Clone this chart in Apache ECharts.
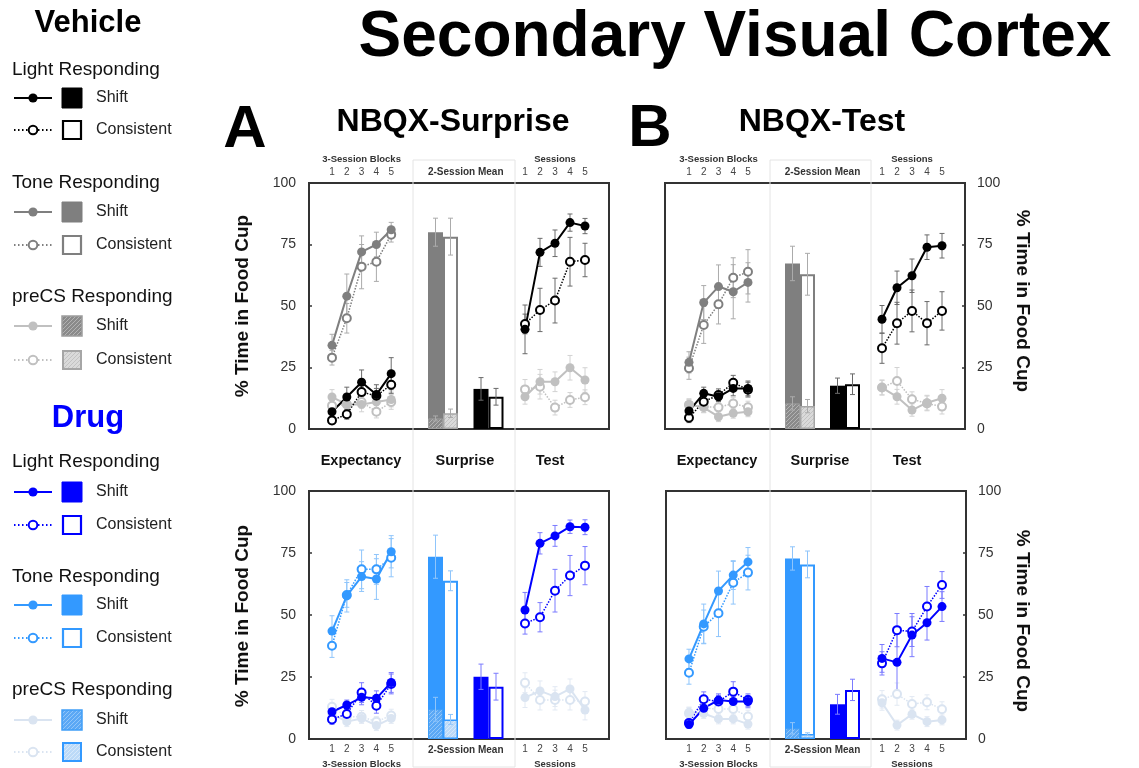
<!DOCTYPE html>
<html><head><meta charset="utf-8">
<script src="https://cdn.jsdelivr.net/npm/echarts@6/dist/echarts.min.js"></script>
<style>html,body{margin:0;padding:0;background:#fff}#c{width:1139px;height:768px}</style>
</head><body><div id="c"></div>
<script>
// ---------- categories / ticks ----------
const blocks = ['1','2','3','4','5'];
const sessions = ['1','2','3','4','5'];
const meanCats = ['Tone','Light'];

// ---------- NBQX-Surprise, Vehicle (A top) ----------
const AV_expToneShift = [34, 54, 72, 75, 81];      const AV_expToneShiftSE = [4.5, 9, 6.5, 5, 3];
const AV_expToneCons  = [29, 45, 66, 68, 79];      const AV_expToneConsSE  = [3, 6, 9, 8, 3];
const AV_expLightShift= [7, 13, 19, 14, 22.5];     const AV_expLightShiftSE= [2.5, 4, 5, 4, 6.5];
const AV_expLightCons = [3.5, 6, 15, 13.5, 18];    const AV_expLightConsSE = [1.5, 2, 3, 3, 3.5];
const AV_expPrecsShift= [13, 10, 10, 11, 12];      const AV_expPrecsShiftSE= [3, 3, 3, 3, 3];
const AV_expPrecsCons = [9.5, 10, 11, 7, 11];      const AV_expPrecsConsSE = [2.5, 2.5, 2.5, 2.5, 3];
const AV_meanShift = [80, 16.3];   const AV_meanShiftSE = [5.7, 4.6];
const AV_meanCons  = [78.2, 13.1]; const AV_meanConsSE  = [7.5, 3.4];
const AV_meanPrecs = [4.3, 6.4];   const AV_meanPrecsSE = [1, 1.7];
const AV_sesLightShift = [40.5, 71.8, 75.5, 83.9, 82.5]; const AV_sesLightShiftSE = [9.9, 5.7, 5.4, 3.5, 3.1];
const AV_sesLightCons  = [42.7, 48.4, 52.2, 68, 68.7];   const AV_sesLightConsSE  = [4, 8.8, 9.1, 9.9, 6.8];
const AV_sesPrecsShift = [13.1, 19.2, 19.2, 24.9, 19.9]; const AV_sesPrecsShiftSE = [3, 5, 4, 5, 5];
const AV_sesPrecsCons  = [16.1, 17.2, 8.7, 11.8, 12.9];  const AV_sesPrecsConsSE  = [4, 5, 3, 3, 3];

// ---------- NBQX-Test, Vehicle (B top) ----------
const BV_expToneShift = [27.1, 51.4, 57.9, 55.8, 59.6]; const BV_expToneShiftSE = [4.3, 6.9, 8.8, 11, 8];
const BV_expToneCons  = [24.7, 42.3, 50.7, 61.5, 63.9]; const BV_expToneConsSE  = [4.5, 7.5, 8, 8.1, 9];
const BV_expLightShift= [7.3, 14.5, 13.1, 16.5, 16.5];  const BV_expLightShiftSE= [2, 2.5, 2, 3, 3];
const BV_expLightCons = [4.6, 11.1, 13.8, 18.8, 16];    const BV_expLightConsSE = [2, 2.5, 2.5, 3, 3];
const BV_expPrecsShift= [10, 8.7, 5, 6.4, 7];           const BV_expPrecsShiftSE= [2, 2, 2, 2, 2];
const BV_expPrecsCons = [9.8, 9.1, 8.8, 10.4, 8.8];     const BV_expPrecsConsSE = [2.5, 2.5, 2.5, 2.5, 2.5];
const BV_meanShift = [67.3, 17.6]; const BV_meanShiftSE = [7, 3.1];
const BV_meanCons  = [62.9, 18.2]; const BV_meanConsSE  = [8.5, 4.2];
const BV_meanPrecs = [10.4, 9.3];  const BV_meanPrecsSE = [2.7, 2.7];
const BV_sesLightShift = [44.6, 57.4, 62.3, 73.9, 74.5]; const BV_sesLightShiftSE = [5.6, 6.8, 6.8, 5, 5];
const BV_sesLightCons  = [32.8, 43, 48, 43, 48];         const BV_sesLightConsSE  = [6.1, 8.5, 8.5, 8.8, 7.8];
const BV_sesPrecsShift = [16.8, 13.1, 7.7, 10.7, 12.5];  const BV_sesPrecsShiftSE = [3, 3, 2.5, 3, 3.5];
const BV_sesPrecsCons  = [16.9, 19.5, 12.1, 10.4, 9.1];  const BV_sesPrecsConsSE  = [3, 5.5, 3, 3, 3];

// ---------- NBQX-Surprise, Drug (A bottom) ----------
const AD_expToneShift = [43.5, 57.7, 65.5, 64.5, 75.5]; const AD_expToneShiftSE = [6.2, 6.5, 6, 8.2, 6.5];
const AD_expToneCons  = [37.6, 58.1, 68.4, 68.4, 73.1]; const AD_expToneConsSE  = [4.7, 5, 7.8, 6, 7.7];
const AD_expLightShift= [11, 13.7, 16.8, 16.4, 22.8];   const AD_expLightShiftSE= [2, 2, 3, 3, 4];
const AD_expLightCons = [7.9, 10.1, 18.7, 13.4, 22.2];  const AD_expLightConsSE = [2, 2, 4, 3, 4];
const AD_expPrecsShift= [10, 7, 8.3, 5.4, 8.3];         const AD_expPrecsShiftSE= [2.5, 2, 2, 2, 2];
const AD_expPrecsCons = [13, 9, 9, 7, 9.5];             const AD_expPrecsConsSE = [3, 2.5, 2.5, 2, 2.5];
const AD_meanShift = [73.5, 25.1]; const AD_meanShiftSE = [8.7, 5.1];
const AD_meanCons  = [63.8, 21.1]; const AD_meanConsSE  = [4, 5.4];
const AD_meanPrecs = [12, 7.9];    const AD_meanPrecsSE = [4.8, 2];
const AD_sesLightShift = [52, 78.9, 81.9, 85.6, 85.4];   const AD_sesLightShiftSE = [7.1, 4.3, 4.2, 2.7, 3];
const AD_sesLightCons  = [46.6, 49.1, 59.8, 65.9, 69.9]; const AD_sesLightConsSE  = [4.3, 5.9, 8.6, 8.1, 7.7];
const AD_sesPrecsShift = [16.7, 19.4, 17.1, 20.2, 11.7]; const AD_sesPrecsShiftSE = [4, 4, 4, 4, 4];
const AD_sesPrecsCons  = [22.7, 15.7, 15.7, 15.7, 15.1]; const AD_sesPrecsConsSE  = [4, 4, 4, 4, 4];

// ---------- NBQX-Test, Drug (B bottom) ----------
const BD_expToneShift = [32.3, 46.4, 59.7, 66.1, 71.4]; const BD_expToneShiftSE = [3.9, 8, 8, 5.8, 5.8];
const BD_expToneCons  = [26.7, 45.3, 50.7, 63, 67.1];   const BD_expToneConsSE  = [4.6, 6.7, 9.4, 8.6, 7];
const BD_expLightShift= [5.8, 12.4, 15.7, 15.1, 15.1];  const BD_expLightShiftSE= [1.5, 2.5, 2.5, 2, 2.5];
const BD_expLightCons = [6.5, 16, 15.1, 19.1, 15.7];    const BD_expLightConsSE = [1.5, 3, 2.5, 4, 2.5];
const BD_expPrecsShift= [10.8, 10.3, 8.1, 8.1, 6];      const BD_expPrecsShiftSE= [2, 2, 2, 2, 2];
const BD_expPrecsCons = [10.3, 12.4, 12.1, 12.1, 9.1];  const BD_expPrecsConsSE = [2.5, 2.5, 2.5, 2.5, 2.5];
const BD_meanShift = [72.8, 14];   const BD_meanShiftSE = [4.7, 4];
const BD_meanCons  = [70.4, 19.8]; const BD_meanConsSE  = [5.4, 4.3];
const BD_meanPrecs = [4.3, 2];     const BD_meanPrecsSE = [2.3, 0.5];
const BD_sesLightShift = [32.5, 30.9, 41.9, 46.9, 53.4]; const BD_sesLightShiftSE = [5.6, 11.3, 8.7, 7, 6];
const BD_sesLightCons  = [30.5, 43.9, 43.3, 53.4, 62.1]; const BD_sesLightConsSE  = [4.7, 6.7, 6, 8.1, 5.4];
const BD_sesPrecsShift = [14.6, 5.6, 10, 7, 7.7];        const BD_sesPrecsShiftSE = [3, 2, 2, 2, 2];
const BD_sesPrecsCons  = [16, 18.1, 14.1, 14.8, 12];     const BD_sesPrecsConsSE  = [3.5, 4.5, 3, 3, 3];

// ---------- styling ----------
const FF = '"Liberation Sans", Arial, Helvetica, sans-serif';
function hatch(bg, line) {
  const c = document.createElement('canvas'); c.width = 4; c.height = 4;
  const ctx = c.getContext('2d'); ctx.fillStyle = bg; ctx.fillRect(0,0,4,4);
  ctx.strokeStyle = line; ctx.lineWidth = 1; ctx.beginPath();
  ctx.moveTo(0,4); ctx.lineTo(4,0); ctx.moveTo(-1,1); ctx.lineTo(1,-1); ctx.moveTo(3,5); ctx.lineTo(5,3); ctx.stroke();
  return {image: c, repeat: 'repeat'};
}
const VEH = {light:'#000000', tone:'#7f7f7f', precs:'#c0c0c0',
  lightErr:'#6a6a6a', toneErr:'#ababab', precsErr:'#d2d2d2',
  pShiftFill: hatch('#8a8a8a','#b3b3b3'), pShiftBorder:'#9d9d9d',
  pConsFill: hatch('#dadada','#c2c2c2'), pConsBorder:'#a6a6a6'};
const DRUG = {light:'#0000ff', tone:'#3399ff', precs:'#dae4f1',
  lightErr:'#7b7bff', toneErr:'#8fc5fb', precsErr:'#e2e9f3',
  pShiftFill: hatch('#5ba8f5','#91c6fa'), pShiftBorder:'#409ff8',
  pConsFill: hatch('#bcdaf8','#d8e9fb'), pConsBorder:'#3399ff'};

const option = {animation:false, backgroundColor:'#fff', grid:[], xAxis:[], yAxis:[], series:[], graphic:[]};

function errSeries(xi, yi, pts, colors, offset) {
  return {type:'custom', xAxisIndex:xi, yAxisIndex:yi, z:4, silent:true, clip:false,
    encode:{x:0, y:1}, data: pts,
    renderItem(params, api) {
      const x = api.value(0), m = api.value(1), e = api.value(2);
      const t = api.coord([x, m + e]), b = api.coord([x, Math.max(0, m - e)]);
      const cx = t[0] + (offset || 0), cap = 2.5;
      const col = Array.isArray(colors) ? colors[params.dataIndex] : colors;
      const st = {stroke: col, lineWidth: 1};
      return {type:'group', children:[
        {type:'line', shape:{x1:cx, y1:t[1], x2:cx, y2:b[1]}, style:st},
        {type:'line', shape:{x1:cx-cap, y1:t[1], x2:cx+cap, y2:t[1]}, style:st},
        {type:'line', shape:{x1:cx-cap, y1:b[1], x2:cx+cap, y2:b[1]}, style:st}]};
    }};
}
const pts = (m, s) => m.map((v, i) => [i, v, s[i]]);
function lineSeries(xi, yi, data, color, filled) {
  return {type:'line', xAxisIndex:xi, yAxisIndex:yi, data, z:5, silent:true,
    symbol:'circle', symbolSize: filled ? 9 : 8,
    lineStyle:{color, width: filled ? 2 : 1.5, type: filled ? 'solid' : 'dotted'},
    itemStyle: filled ? {color, borderWidth:0} : {color:'#fff', borderColor:color, borderWidth:2},
    emphasis:{disabled:true}};
}

function addPanel(P) {
  const C = P.pal, g0 = option.grid.length;
  const top = P.box.top, height = P.box.bottom - P.box.top;
  const mk = (left, width, show) => ({left, width, top, height, show:!!show, borderColor:'#333', borderWidth:2,
    backgroundColor:'transparent', containLabel:false, outerBoundsMode:'none'});
  option.grid.push(mk(P.box.left, P.box.right - P.box.left, true));
  option.grid.push(mk(P.exp[0], P.exp[1]));
  option.grid.push(mk(P.mean[0], P.mean[1]));
  option.grid.push(mk(P.ses[0], P.ses[1]));
  const x0 = option.xAxis.length, y0 = option.yAxis.length;
  const cat = (gi, data) => ({type:'category', gridIndex:gi, data, position:P.labelPos,
    axisLine:{show:false}, axisTick:{show:false}, splitLine:{show:false},
    axisLabel:{fontSize:10, color:'#444', margin:P.labelPos === 'top' ? 6 : 5, fontFamily:FF}});
  option.xAxis.push({type:'value', gridIndex:g0, show:false, min:0, max:1});
  option.xAxis.push(cat(g0+1, blocks));
  option.xAxis.push({type:'category', gridIndex:g0+2, data:meanCats, show:false, position:'bottom'});
  option.xAxis.push({type:'category', gridIndex:g0+2, data:meanCats, show:false, position:'top'});
  option.xAxis.push(cat(g0+3, sessions));
  option.yAxis.push({type:'value', gridIndex:g0, min:0, max:100, interval:25, position:P.side,
    axisLine:{show:false, onZero:false}, splitLine:{show:false},
    axisTick:{show:true, inside:true, length:3, lineStyle:{color:'#333', width:1.5}},
    axisLabel:{fontSize:14, color:'#333', margin: P.side === 'left' ? 13 : 12, fontFamily:FF}});
  for (let k = 1; k <= 3; k++) option.yAxis.push({type:'value', gridIndex:g0+k, min:0, max:100, show:false});

  const d = P.d;
  // expectancy
  const xe = x0+1, ye = y0+1;
  option.series.push(
    errSeries(xe, ye, pts(d.expPrecsCons, d.expPrecsConsSE), C.precsErr),
    errSeries(xe, ye, pts(d.expPrecsShift, d.expPrecsShiftSE), C.precsErr),
    errSeries(xe, ye, pts(d.expToneCons, d.expToneConsSE), C.toneErr),
    errSeries(xe, ye, pts(d.expToneShift, d.expToneShiftSE), C.toneErr),
    errSeries(xe, ye, pts(d.expLightCons, d.expLightConsSE), C.lightErr),
    errSeries(xe, ye, pts(d.expLightShift, d.expLightShiftSE), C.lightErr),
    lineSeries(xe, ye, d.expPrecsCons, C.precs, false),
    lineSeries(xe, ye, d.expPrecsShift, C.precs, true),
    lineSeries(xe, ye, d.expToneCons, C.tone, false),
    lineSeries(xe, ye, d.expToneShift, C.tone, true),
    lineSeries(xe, ye, d.expLightCons, C.light, false),
    lineSeries(xe, ye, d.expLightShift, C.light, true));
  // 2-session means
  const xm = x0+2, xm2 = x0+3, ym = y0+2, bw = 15;
  option.series.push(
    {type:'bar', xAxisIndex:xm, yAxisIndex:ym, barWidth:bw, barGap:'0%', z:2, silent:true,
      data:[{value:d.meanShift[0], itemStyle:{color:C.tone}}, {value:d.meanShift[1], itemStyle:{color:C.light}}]},
    {type:'bar', xAxisIndex:xm, yAxisIndex:ym, barWidth:bw, barGap:'0%', z:2, silent:true,
      data:[{value:d.meanCons[0], itemStyle:{color:'#fff', borderColor:C.tone, borderWidth:2}},
            {value:d.meanCons[1], itemStyle:{color:'#fff', borderColor:C.light, borderWidth:2}}]},
    {type:'bar', xAxisIndex:xm2, yAxisIndex:ym, barWidth:bw, barGap:'0%', z:3, silent:true,
      data:[{value:d.meanPrecs[0], itemStyle:{color:C.pShiftFill, borderColor:C.pShiftBorder, borderWidth:1}}, '-']},
    {type:'bar', xAxisIndex:xm2, yAxisIndex:ym, barWidth:bw, barGap:'0%', z:3, silent:true,
      data:[{value:d.meanPrecs[1], itemStyle:{color:C.pConsFill, borderColor:C.pConsBorder, borderWidth:1.5}}, '-']},
    errSeries(xm, ym, pts(d.meanShift, d.meanShiftSE), [C.toneErr, C.lightErr], -bw/2),
    errSeries(xm, ym, pts(d.meanCons, d.meanConsSE), [C.toneErr, C.lightErr], bw/2),
    errSeries(xm2, ym, [[0, d.meanPrecs[0], d.meanPrecsSE[0]]], C.toneErr, -bw/2),
    errSeries(xm2, ym, [[0, d.meanPrecs[1], d.meanPrecsSE[1]]], C.toneErr, bw/2));
  // sessions
  const xs = x0+4, ys = y0+3;
  option.series.push(
    errSeries(xs, ys, pts(d.sesPrecsCons, d.sesPrecsConsSE), C.precsErr),
    errSeries(xs, ys, pts(d.sesPrecsShift, d.sesPrecsShiftSE), C.precsErr),
    errSeries(xs, ys, pts(d.sesLightCons, d.sesLightConsSE), C.lightErr),
    errSeries(xs, ys, pts(d.sesLightShift, d.sesLightShiftSE), C.lightErr),
    lineSeries(xs, ys, d.sesPrecsCons, C.precs, false),
    lineSeries(xs, ys, d.sesPrecsShift, C.precs, true),
    lineSeries(xs, ys, d.sesLightCons, C.light, false),
    lineSeries(xs, ys, d.sesLightShift, C.light, true));

  // axis sub-labels
  const ly = P.labelPos === 'top' ? 159 : 764;
  txt(P.exp[0] + P.exp[1]/2, ly, '3-Session Blocks', 'bold 9.5px ' + FF, '#333');
  txt(P.ses[0] + P.ses[1]/2, ly, 'Sessions', 'bold 9.5px ' + FF, '#333');
  txt(P.mean[0] + P.mean[1]/2, P.labelPos === 'top' ? 172 : 750, '2-Session Mean', 'bold 10px ' + FF, '#333');
}

function txt(x, y, text, font, fill, rot, align) {
  option.graphic.push({type:'text', x, y, rotation: rot || 0, z:20, silent:true,
    style:{x:0, y:0, text, font, fill: fill || '#000', textAlign: align || 'center', align: align || 'center',
      textVerticalAlign:'middle', verticalAlign:'middle'}});
}
function rect(x, y, w, h, style) {
  option.graphic.push({type:'rect', z: style.z || 0, silent:true, shape:{x, y, width:w, height:h}, style});
}

// column boxes for the 2-session mean
rect(413, 160, 102, 607, {fill:'none', stroke:'#e4e4e4', lineWidth:1, z:0});
rect(770, 160, 101, 607, {fill:'none', stroke:'#e4e4e4', lineWidth:1, z:0});

const pick = (pre) => {
  const src = {
    AV:{expToneShift:AV_expToneShift,expToneShiftSE:AV_expToneShiftSE,expToneCons:AV_expToneCons,expToneConsSE:AV_expToneConsSE,expLightShift:AV_expLightShift,expLightShiftSE:AV_expLightShiftSE,expLightCons:AV_expLightCons,expLightConsSE:AV_expLightConsSE,expPrecsShift:AV_expPrecsShift,expPrecsShiftSE:AV_expPrecsShiftSE,expPrecsCons:AV_expPrecsCons,expPrecsConsSE:AV_expPrecsConsSE,meanShift:AV_meanShift,meanShiftSE:AV_meanShiftSE,meanCons:AV_meanCons,meanConsSE:AV_meanConsSE,meanPrecs:AV_meanPrecs,meanPrecsSE:AV_meanPrecsSE,sesLightShift:AV_sesLightShift,sesLightShiftSE:AV_sesLightShiftSE,sesLightCons:AV_sesLightCons,sesLightConsSE:AV_sesLightConsSE,sesPrecsShift:AV_sesPrecsShift,sesPrecsShiftSE:AV_sesPrecsShiftSE,sesPrecsCons:AV_sesPrecsCons,sesPrecsConsSE:AV_sesPrecsConsSE},
    BV:{expToneShift:BV_expToneShift,expToneShiftSE:BV_expToneShiftSE,expToneCons:BV_expToneCons,expToneConsSE:BV_expToneConsSE,expLightShift:BV_expLightShift,expLightShiftSE:BV_expLightShiftSE,expLightCons:BV_expLightCons,expLightConsSE:BV_expLightConsSE,expPrecsShift:BV_expPrecsShift,expPrecsShiftSE:BV_expPrecsShiftSE,expPrecsCons:BV_expPrecsCons,expPrecsConsSE:BV_expPrecsConsSE,meanShift:BV_meanShift,meanShiftSE:BV_meanShiftSE,meanCons:BV_meanCons,meanConsSE:BV_meanConsSE,meanPrecs:BV_meanPrecs,meanPrecsSE:BV_meanPrecsSE,sesLightShift:BV_sesLightShift,sesLightShiftSE:BV_sesLightShiftSE,sesLightCons:BV_sesLightCons,sesLightConsSE:BV_sesLightConsSE,sesPrecsShift:BV_sesPrecsShift,sesPrecsShiftSE:BV_sesPrecsShiftSE,sesPrecsCons:BV_sesPrecsCons,sesPrecsConsSE:BV_sesPrecsConsSE},
    AD:{expToneShift:AD_expToneShift,expToneShiftSE:AD_expToneShiftSE,expToneCons:AD_expToneCons,expToneConsSE:AD_expToneConsSE,expLightShift:AD_expLightShift,expLightShiftSE:AD_expLightShiftSE,expLightCons:AD_expLightCons,expLightConsSE:AD_expLightConsSE,expPrecsShift:AD_expPrecsShift,expPrecsShiftSE:AD_expPrecsShiftSE,expPrecsCons:AD_expPrecsCons,expPrecsConsSE:AD_expPrecsConsSE,meanShift:AD_meanShift,meanShiftSE:AD_meanShiftSE,meanCons:AD_meanCons,meanConsSE:AD_meanConsSE,meanPrecs:AD_meanPrecs,meanPrecsSE:AD_meanPrecsSE,sesLightShift:AD_sesLightShift,sesLightShiftSE:AD_sesLightShiftSE,sesLightCons:AD_sesLightCons,sesLightConsSE:AD_sesLightConsSE,sesPrecsShift:AD_sesPrecsShift,sesPrecsShiftSE:AD_sesPrecsShiftSE,sesPrecsCons:AD_sesPrecsCons,sesPrecsConsSE:AD_sesPrecsConsSE},
    BD:{expToneShift:BD_expToneShift,expToneShiftSE:BD_expToneShiftSE,expToneCons:BD_expToneCons,expToneConsSE:BD_expToneConsSE,expLightShift:BD_expLightShift,expLightShiftSE:BD_expLightShiftSE,expLightCons:BD_expLightCons,expLightConsSE:BD_expLightConsSE,expPrecsShift:BD_expPrecsShift,expPrecsShiftSE:BD_expPrecsShiftSE,expPrecsCons:BD_expPrecsCons,expPrecsConsSE:BD_expPrecsConsSE,meanShift:BD_meanShift,meanShiftSE:BD_meanShiftSE,meanCons:BD_meanCons,meanConsSE:BD_meanConsSE,meanPrecs:BD_meanPrecs,meanPrecsSE:BD_meanPrecsSE,sesLightShift:BD_sesLightShift,sesLightShiftSE:BD_sesLightShiftSE,sesLightCons:BD_sesLightCons,sesLightConsSE:BD_sesLightConsSE,sesPrecsShift:BD_sesPrecsShift,sesPrecsShiftSE:BD_sesPrecsShiftSE,sesPrecsCons:BD_sesPrecsCons,sesPrecsConsSE:BD_sesPrecsConsSE}
  };
  return src[pre];
};

const geoA = {exp:[324.6, 74], mean:[420.25, 91], ses:[517.5, 75]};
const geoB = {exp:[681.6, 73.75], mean:[777.5, 90], ses:[874.5, 75]};
addPanel(Object.assign({pal:VEH, d:pick('AV'), side:'left', labelPos:'top', box:{left:309, right:609, top:183, bottom:429}}, geoA));
addPanel(Object.assign({pal:VEH, d:pick('BV'), side:'right', labelPos:'top', box:{left:665, right:965, top:183, bottom:429}}, geoB));
addPanel(Object.assign({pal:DRUG, d:pick('AD'), side:'left', labelPos:'bottom', box:{left:309, right:609, top:491, bottom:739}}, geoA));
addPanel(Object.assign({pal:DRUG, d:pick('BD'), side:'right', labelPos:'bottom', box:{left:666, right:966, top:491, bottom:739}}, geoB));

// titles
txt(735, 38, 'Secondary Visual Cortex', 'bold 64px ' + FF, '#000');
txt(245, 130, 'A', 'bold 60px ' + FF, '#000');
txt(650, 129, 'B', 'bold 60px ' + FF, '#000');
txt(453, 122, 'NBQX-Surprise', 'bold 32px ' + FF, '#000');
txt(822, 122, 'NBQX-Test', 'bold 32px ' + FF, '#000');
[['Expectancy', 361], ['Surprise', 465], ['Test', 550], ['Expectancy', 717], ['Surprise', 820], ['Test', 907]]
  .forEach(([t, x]) => txt(x, 461, t, 'bold 14.5px ' + FF, '#111'));
txt(243, 306, '% Time in Food Cup', 'bold 19px ' + FF, '#111', Math.PI/2);
txt(243, 616, '% Time in Food Cup', 'bold 19px ' + FF, '#111', Math.PI/2);
txt(1022, 301, '% Time in Food Cup', 'bold 19px ' + FF, '#111', -Math.PI/2);
txt(1022, 621, '% Time in Food Cup', 'bold 19px ' + FF, '#111', -Math.PI/2);

// legend
function legendBlock(title, titleColor, titleY, C, rows) {
  txt(88, titleY, title, 'bold 31px ' + FF, titleColor);
  const groups = [['Light Responding', C.light, C.light, null, null], ['Tone Responding', C.tone, C.tone, null, null],
                  ['preCS Responding', C.precs, C.tone, C.pShiftFill, C.pConsFill]];
  groups.forEach((g, i) => {
    const [gy, sy, cy] = rows[i];
    txt(12, gy, g[0], '19px ' + FF, '#111', 0, 'left');
    option.graphic.push({type:'line', z:20, silent:true, shape:{x1:14, y1:sy, x2:52, y2:sy}, style:{stroke:g[1], lineWidth:2}});
    option.graphic.push({type:'circle', z:21, silent:true, shape:{cx:33, cy:sy, r:4.6}, style:{fill:g[1]}});
    if (i < 2) rect(62, sy-10, 20, 20, {fill: g[1], stroke: g[1], lineWidth:1, z:20});
    else rect(62, sy-10, 20, 20, {fill: g[3], stroke: C.pShiftBorder, lineWidth:1.5, z:20});
    txt(96, sy, 'Shift', '16px ' + FF, '#222', 0, 'left');
    option.graphic.push({type:'line', z:20, silent:true, shape:{x1:14, y1:cy, x2:52, y2:cy}, style:{stroke:g[1], lineWidth:1.8, lineDash:[1.5, 2.5]}});
    option.graphic.push({type:'circle', z:21, silent:true, shape:{cx:33, cy:cy, r:4.3}, style:{fill:'#fff', stroke:g[1], lineWidth:2}});
    if (i < 2) rect(63, cy-9, 18, 18, {fill:'#fff', stroke: g[2], lineWidth:2.2, z:20});
    else rect(63, cy-9, 18, 18, {fill: g[4], stroke: C.pConsBorder, lineWidth:2, z:20});
    txt(96, cy, 'Consistent', '16px ' + FF, '#222', 0, 'left');
  });
}
legendBlock('Vehicle', '#000', 23, VEH, [[70, 98, 130], [183, 212, 245], [297, 326, 360]]);
legendBlock('Drug', '#0000ff', 418, DRUG, [[462, 492, 525], [577, 605, 638], [690, 720, 752]]);

const chart = echarts.init(document.getElementById('c'), null, {renderer:'canvas'});
chart.setOption(option);
</script>
</body></html>
